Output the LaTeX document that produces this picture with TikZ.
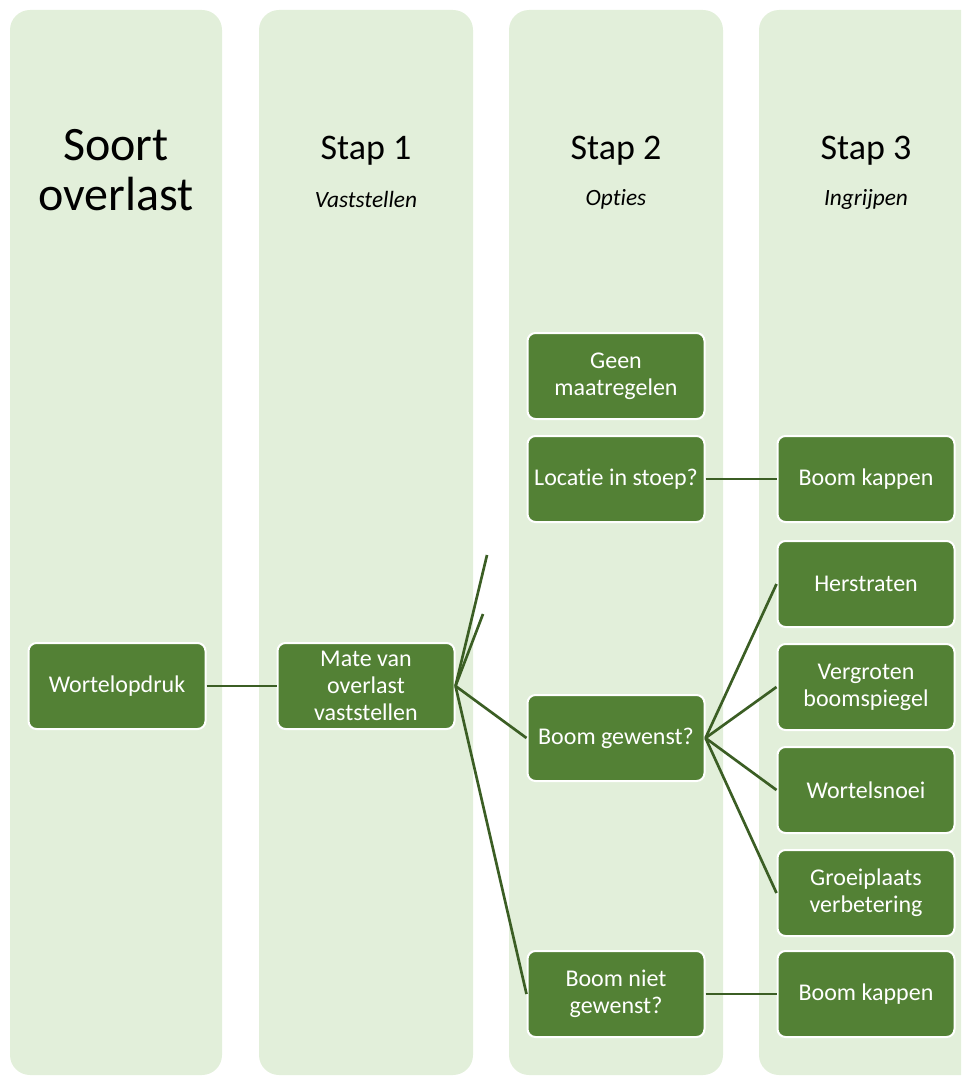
\documentclass[tikz,border=0pt]{standalone}
\usepackage{fontspec}
\setmainfont[Ligatures=NoCommon]{Carlito}
\usetikzlibrary{positioning}
\definecolor{leaf}{HTML}{538135}
\definecolor{stem}{HTML}{3B5E24}
\definecolor{lanegreen}{HTML}{E2EFDA}

\begin{document}
\begin{tikzpicture}[x=0.75pt,y=-0.75pt,
  lanebg/.style={fill=lanegreen,rounded corners=15pt},
  box/.style={draw=white,line width=1.5pt,fill=leaf,rounded corners=6pt,text=white,minimum width=132.75pt,minimum height=64.5pt,align=center,font=\fontsize{18}{20.25}\selectfont},
  colhead/.style={align=center,font=\fontsize{27}{30}\selectfont},
  colsub/.style={font=\fontsize{17.5}{20}\selectfont\itshape},
  link/.style={draw=stem,line width=2pt}]
  \useasboundingbox (0,0) rectangle (961,1077);
  \clip (0,0) rectangle (961,1077);
  % lanes
  \fill[lanebg] (10,10) rectangle (222,1075);
  \fill[lanebg] (259,10) rectangle (473,1075);
  \fill[lanebg] (509,10) rectangle (723,1075);
  \fill[lanebg] (759,10) rectangle (990,1075);
  % lane headings
  \node[colhead,font=\fontsize{36}{37.5}\selectfont] (soort) at (116,170) {Soort\\overlast};
  \node[colhead] (stap1) at (366,151) {Stap 1};
  \node[colsub] (sub1) at (366,199) {Vaststellen};
  \node[colhead] (stap2) at (616,151) {Stap 2};
  \node[colsub] (sub2) at (616,199) {Opties};
  \node[colhead] (stap3) at (866,151) {Stap 3};
  \node[colsub] (sub3) at (866,199) {Ingrijpen};
  % boxes
  \node[box] (wortel) at (117,686) {Wortelopdruk};
  \node[box] (mate) at (366,686) {Mate van\\overlast\\vaststellen};
  \node[box] (geen) at (616,376) {Geen\\maatregelen};
  \node[box] (locatie) at (616,479) {Locatie in stoep?};
  \node[box] (gewenst) at (616,738) {Boom gewenst?};
  \node[box] (nietgewenst) at (616,994) {Boom niet\\gewenst?};
  \node[box] (kappen1) at (866,479) {Boom kappen};
  \node[box] (herstraten) at (866,584) {Herstraten};
  \node[box] (spiegel) at (866,687) {Vergroten\\boomspiegel};
  \node[box] (snoei) at (866,790) {Wortelsnoei};
  \node[box] (groei) at (866,893) {Groeiplaats\\verbetering};
  \node[box] (kappen2) at (866,994) {Boom kappen};
  % loose ends
  \coordinate (stubA) at (487,555);
  \coordinate (stubB) at (483,614);
  % connectors
  \draw[link] (wortel.east) -- (mate.west);
  \draw[link] (mate.east) -- (stubA);
  \draw[link] (mate.east) -- (stubB);
  \draw[link] (mate.east) -- (gewenst.west);
  \draw[link] (mate.east) -- (nietgewenst.west);
  \draw[link] (locatie.east) -- (kappen1.west);
  \draw[link] (gewenst.east) -- (herstraten.west);
  \draw[link] (gewenst.east) -- (spiegel.west);
  \draw[link] (gewenst.east) -- (snoei.west);
  \draw[link] (gewenst.east) -- (groei.west);
  \draw[link] (nietgewenst.east) -- (kappen2.west);
\end{tikzpicture}
\end{document}
